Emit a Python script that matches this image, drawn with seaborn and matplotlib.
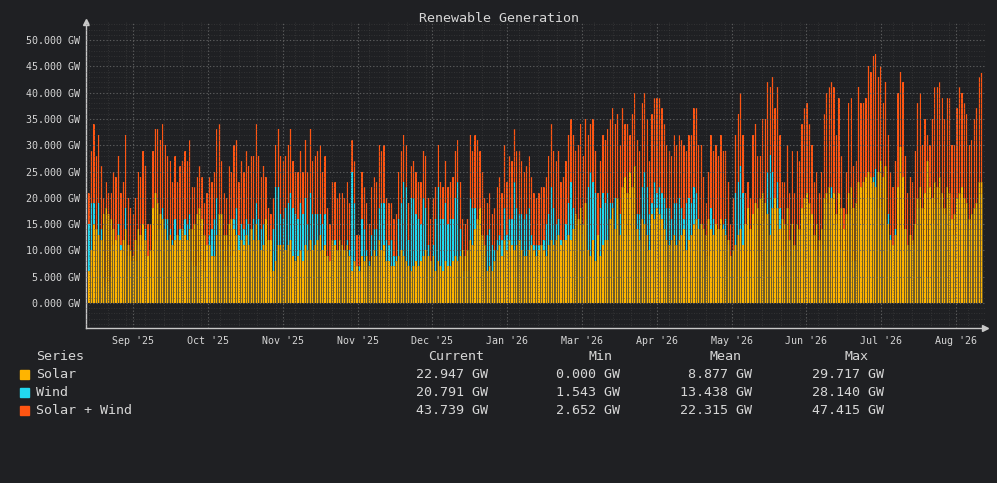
import numpy as np
import pandas as pd
import matplotlib
matplotlib.use("Agg")
import matplotlib.pyplot as plt
import matplotlib.patches as mpatches
from matplotlib.ticker import FixedLocator, MultipleLocator
import seaborn as sns

# daily peak values (GW), mid Aug 2025 -> mid Aug 2026
solar_gw = [
    6, 10, 15, 14, 13, 12, 17, 18, 17, 16, 14, 12, 13, 10, 12, 14, 11, 10, 9, 12,
    14, 13, 15, 12, 9, 10, 18, 21, 19, 17, 16, 14, 12, 13, 11, 12, 13, 12, 14,
    13, 12, 14, 14, 15, 17, 18, 16, 13, 11, 11, 9, 9, 13, 17, 17, 13, 13, 15, 16,
    14, 13, 10, 12, 11, 13, 11, 14, 12, 15, 12, 10, 11, 16, 12, 12, 6, 8, 11, 11, 11,
    10, 11, 12, 9, 8, 9, 10, 8, 11, 10, 12, 10, 11, 12, 13, 10, 11, 9, 8, 12,
    11, 10, 12, 11, 10, 11, 9, 6, 8, 7, 6, 9, 8, 9, 7, 9, 10, 9, 12, 10, 11,
    8, 8, 7, 7, 8, 9, 10, 9, 8, 7, 6, 7, 8, 7, 8, 9, 10, 9, 8, 9,
    6, 8, 7, 6, 8, 7, 7, 8, 9, 8, 9, 10, 9, 10, 12, 11, 14, 16, 18, 13, 11,
    6, 7, 6, 8, 10, 11, 9, 12, 10, 12, 11, 10, 11, 12, 10, 9, 9, 10, 11, 10,
    9, 10, 11, 10, 9, 11, 12, 11, 12, 13, 11, 12, 12, 13, 12, 14, 17, 16, 18, 15, 19,
    10, 9, 12, 8, 13, 9, 11, 12, 12, 16, 18, 14, 20, 13, 22, 24, 21, 25, 22, 26,
    14, 12, 16, 15, 13, 10, 17, 16, 18, 17, 16, 14, 12, 11, 12, 13, 11, 12, 13, 14, 10,
    12, 13, 15, 16, 14, 15, 14, 13, 16, 14, 13, 15, 14, 16, 14, 13, 12, 9, 10, 11,
    13, 14, 11, 15, 18, 14, 17, 19, 18, 20, 21, 19, 17, 13, 18, 20, 18, 14, 16, 15, 18,
    12, 15, 11, 15, 14, 18, 20, 21, 19, 17, 13, 15, 12, 14, 20, 21, 22, 20, 21, 17,
    21, 18, 14, 17, 21, 22, 18, 19, 23, 22, 23, 24, 25, 24, 23, 22, 25, 27, 24, 26,
    15, 12, 11, 13, 22, 29.7, 24, 14, 11, 13, 12, 15, 20, 22, 18, 21, 27, 22,
    20, 23, 22, 24, 21, 18, 22, 21, 16, 17, 20, 21, 22, 20, 19, 16, 17, 18, 19, 23, 22.947,
]
wind_gw = [
    15, 19, 19, 14, 19, 14, 3, 5, 4, 5, 11, 12, 15, 11, 11, 18, 9, 8, 8, 8,
    11, 11, 14, 14, 6, 5, 11, 12, 14, 14, 18, 16, 16, 14, 12, 16, 10, 14, 13,
    16, 15, 17, 8, 7, 7, 8, 8, 6, 10, 13, 14, 16, 20, 17, 10, 8, 7, 11, 9,
    16, 18, 13, 15, 14, 16, 15, 14, 16, 19, 16, 14, 15, 8, 6, 5, 14, 22, 22, 17, 16,
    18, 19, 21, 18, 17, 16, 19, 17, 20, 15, 21, 17, 17, 17, 17, 15, 17, 9, 7, 11,
    12, 10, 9, 10, 10, 12, 10, 25, 19, 6, 7, 16, 14, 10, 8, 13, 14, 14, 18, 19, 19,
    12, 11, 12, 9, 9, 16, 19, 23, 22, 12, 20, 20, 17, 16, 15, 20, 18, 11, 8, 11,
    16, 22, 16, 16, 19, 15, 16, 16, 20, 23, 14, 6, 6, 6, 20, 18, 18, 15, 11, 12, 9,
    13, 14, 11, 10, 12, 13, 12, 18, 13, 16, 16, 23, 18, 17, 17, 16, 17, 18, 13, 11,
    11, 11, 11, 12, 15, 17, 22, 18, 15, 16, 12, 12, 15, 19, 23, 18, 12, 14, 16, 13, 16,
    22, 25, 23, 21, 8, 18, 21, 19, 21, 19, 19, 20, 16, 17, 15, 10, 13, 7, 14, 14,
    17, 17, 22, 25, 22, 17, 19, 23, 21, 22, 21, 20, 18, 18, 16, 19, 19, 20, 18, 16, 19,
    20, 19, 22, 21, 16, 15, 10, 6, 9, 18, 16, 15, 14, 16, 15, 16, 11, 6, 10, 21,
    23, 26, 21, 6, 5, 6, 15, 15, 10, 8, 14, 16, 25, 28.1, 25, 17, 23, 18, 7, 8, 12,
    9, 14, 10, 14, 13, 16, 17, 17, 15, 13, 10, 10, 9, 11, 16, 19, 19, 22, 20, 15,
    18, 10, 4, 8, 17, 17, 8, 8, 18, 16, 15, 15, 20, 20, 24, 25.4, 18, 18, 14, 16,
    17, 13, 11, 14, 18, 14.3, 18, 14, 10, 11, 11, 14, 18, 18, 12, 14, 5, 8,
    15, 18, 19, 18, 18, 17, 17, 18, 14, 13, 17, 20, 18, 18, 17, 14, 14, 17, 18, 20, 20.791,
]

tick_days = [17.9, 48.3, 78.7, 109.2, 139.6, 170.0, 200.4, 230.8, 261.3, 291.7, 322.1, 352.5]
tick_labels = ["Sep '25", "Oct '25", "Nov '25", "Nov '25", "Dec '25", "Jan '26",
               "Mar '26", "Apr '26", "May '26", "Jun '26", "Jul '26", "Aug '26"]

legend_names = ["Solar", "Wind", "Solar + Wind"]
legend_current = ["22.947 GW", "20.791 GW", "43.739 GW"]
legend_min = ["0.000 GW", "1.543 GW", "2.652 GW"]
legend_mean = ["8.877 GW", "13.438 GW", "22.315 GW"]
legend_max = ["29.717 GW", "28.140 GW", "47.415 GW"]

BG = "#1f2023"
TXT = "#d6d6d6"
AXIS = "#c8c8c8"
YELLOW = "#ffb400"
CYAN = "#22d8f0"
ORANGE = "#ff5512"

df = pd.DataFrame({"day": np.arange(len(solar_gw)), "solar": solar_gw, "wind": wind_gw})
df["total"] = df["solar"] + df["wind"]

sns.set_theme(style="dark", rc={"axes.facecolor": BG, "figure.facecolor": BG})
plt.rcParams["font.family"] = ["DejaVu Sans Mono"]

fig = plt.figure(figsize=(9.97, 4.83), dpi=100, facecolor=BG)
ax = fig.add_axes([0.0863, 0.321, 0.9017, 0.633])
ax.set_facecolor(BG)

series = [("total", ORANGE, 0.12), ("wind", CYAN, 0.12), ("solar", YELLOW, 0.3)]
# faint full width layer so the gaps look tinted, then the bright bars
for col, color, a in series:
    sns.barplot(data=df, x="day", y=col, native_scale=True, color=color, width=1.0,
                alpha=a, errorbar=None, saturation=1, linewidth=0, ax=ax)
for col, color, a in series:
    sns.barplot(data=df, x="day", y=col, native_scale=True, color=color, width=0.5,
                errorbar=None, saturation=1, linewidth=0, ax=ax)

ax.set_xlim(-1.2, 364.4)
ax.set_ylim(-4.75, 53.4)
ax.set_xlabel("")
ax.set_ylabel("")

ax.yaxis.set_major_locator(FixedLocator(np.arange(0, 51, 5)))
ax.set_yticklabels([f"{v:.3f} GW" for v in np.arange(0, 51, 5)])
ax.yaxis.set_minor_locator(MultipleLocator(1))
ax.xaxis.set_major_locator(FixedLocator(tick_days))
ax.set_xticklabels(tick_labels)
ax.xaxis.set_minor_locator(MultipleLocator(30.42 / 4))
ax.tick_params(axis="both", which="both", length=0, colors=TXT, labelsize=7.2, pad=4)
ax.tick_params(axis="x", pad=6)

ax.set_axisbelow(False)
ax.grid(which="major", color="#6a6a6a", linestyle=(0, (1.2, 1.8)), linewidth=0.8, alpha=0.8)
ax.grid(which="minor", color="#4a4a4a", linestyle=(0, (1, 2)), linewidth=0.6, alpha=0.6)

for s in ["top", "right"]:
    ax.spines[s].set_visible(False)
for s in ["left", "bottom"]:
    ax.spines[s].set_color(AXIS)
    ax.spines[s].set_linewidth(1)
ax.plot([0], [1], marker="^", ms=4, color=AXIS, transform=ax.transAxes, clip_on=False)
ax.plot([1], [0], marker=">", ms=4, color=AXIS, transform=ax.transAxes, clip_on=False)

fig.text(0.5, 1 - 19 / 483, "Renewable Generation", ha="center", va="center",
         color=TXT, fontsize=9.6)

W, H = 997, 483
def px(x, y):
    return x / W, 1 - y / H

cols_x = [488, 620, 752, 884]
head_x = [484, 612, 741, 868]
fig.text(*px(36, 356), "Series", ha="left", va="center", color=TXT, fontsize=9.6)
for hx, name in zip(head_x, ["Current", "Min", "Mean", "Max"]):
    fig.text(*px(hx, 356), name, ha="right", va="center", color=TXT, fontsize=9.6)

colors = [YELLOW, CYAN, ORANGE]
for i, name in enumerate(legend_names):
    yy = 374 + 18 * i
    fig.patches.append(mpatches.Rectangle(px(20, yy + 4.5), 9 / W, 9 / H, color=colors[i],
                                          transform=fig.transFigure, figure=fig))
    fig.text(*px(36, yy), name, ha="left", va="center", color=TXT, fontsize=9.6)
    vals = [legend_current[i], legend_min[i], legend_mean[i], legend_max[i]]
    for cx, v in zip(cols_x, vals):
        fig.text(*px(cx, yy), v, ha="right", va="center", color=TXT, fontsize=9.6)

fig.savefig("out.png", dpi=100, facecolor=BG)
